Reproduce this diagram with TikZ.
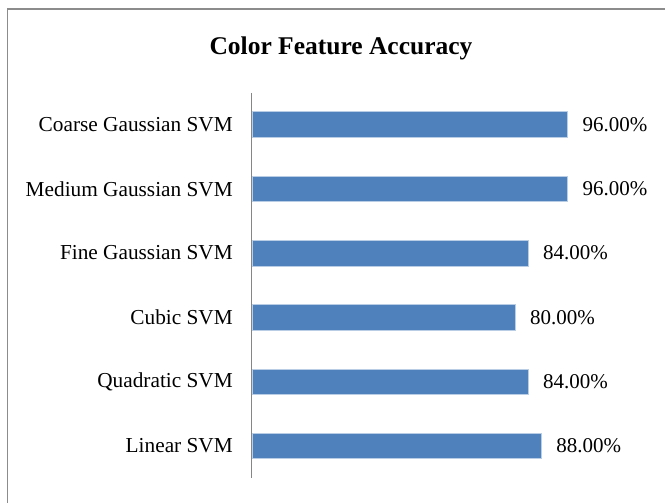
\documentclass[tikz,border=0pt]{standalone}
\usepackage{fontspec}
\setmainfont{Liberation Serif}
\definecolor{barblue}{HTML}{4F81BD}
\definecolor{baredge}{HTML}{B9CDE5}
\definecolor{framegray}{HTML}{8C8C8C}
\definecolor{axisgray}{HTML}{868686}
\begin{document}
\begin{tikzpicture}[x=1pt,y=-1pt,
  catlabel/.style={anchor=east,inner sep=0pt,font=\fontsize{21.3}{24}\selectfont},
  vallabel/.style={anchor=west,inner sep=0pt,font=\fontsize{21}{24}\selectfont},
  bar/.style={anchor=west,draw=baredge,line width=0.6pt,fill=barblue,
    minimum height=25.5pt,inner sep=0pt,outer sep=0pt},
  charttitle/.style={inner sep=0pt,font=\bfseries\fontsize{25.5}{29}\selectfont}]
\useasboundingbox (0,0) rectangle (665,503);
% chart frame (cut off at the right and bottom)
\draw[framegray,line width=1.5pt] (7.5,503) -- (7.5,9) -- (665,9);
% title
\node[charttitle] (title) at (341,48) {Color Feature Accuracy};
% category axis
\coordinate (axtop) at (251.5,93);
\coordinate (axbot) at (251.5,478);
\draw[axisgray,line width=1.5pt] (axtop) -- (axbot);
% bars: 1% = 3.28pt, starting at the axis
\foreach \i/\name/\val/\txt in {0/Coarse Gaussian SVM/96/96.00\%,
                                1/Medium Gaussian SVM/96/96.00\%,
                                2/Fine Gaussian SVM/84/84.00\%,
                                3/Cubic SVM/80/80.00\%,
                                4/Quadratic SVM/84/84.00\%,
                                5/Linear SVM/88/88.00\%}{
  \pgfmathsetmacro{\yc}{124.5+64.3*\i}
  \pgfmathsetmacro{\w}{3.28*\val}
  \node[bar,minimum width=\w pt] (bar\i) at (252.5,\yc) {};
  \node[catlabel] (cat\i) at (233,\yc) {\name};
  \node[vallabel] (val\i) at ([xshift=15pt]bar\i.east) {\txt};
}
\end{tikzpicture}
\end{document}
